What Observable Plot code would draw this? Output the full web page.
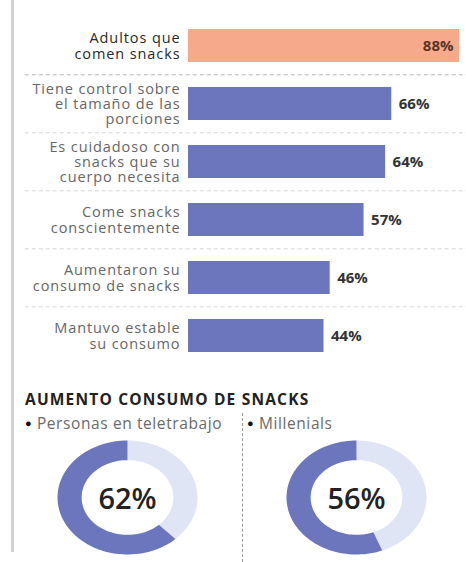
<!DOCTYPE html>
<html>
<head>
<meta charset="utf-8">
<script src="https://cdn.jsdelivr.net/npm/d3@7"></script>
<script src="https://cdn.jsdelivr.net/npm/@observablehq/plot@0.6"></script>
<style>
  html, body { margin: 0; padding: 0; background: #fff; }
  #wrap { position: relative; width: 466px; height: 562px; overflow: hidden; font-family: "Open Sans", sans-serif; }
  #leftline { position: absolute; left: 11px; top: 0; width: 3px; height: 552px; background: #d2d2d2; }
  #bars { position: absolute; left: 0; top: 0; }
  #title2 { position: absolute; left: 25px; top: 388px; font-size: 15.5px; font-weight: 700; color: #222; letter-spacing: 1.2px; white-space: nowrap; }
  .leg { position: absolute; top: 412px; font-size: 15.5px; color: #6a6a6a; letter-spacing: 0.6px; white-space: nowrap; }
  .leg b { color: #111; font-size: 11px; position: relative; top: -2px; }
  #vdash { position: absolute; left: 242px; top: 413px; height: 149px; border-left: 1px dashed #999; }
  .donut { position: absolute; top: 412px; }
</style>
</head>
<body>
<div id="wrap">
  <div id="leftline"></div>
  <div id="bars"></div>
  <div id="title2">AUMENTO CONSUMO DE SNACKS</div>
  <div class="leg" id="leg1" style="left:25px"><b>●</b> Personas en teletrabajo</div>
  <div class="leg" id="leg2" style="left:247px"><b>●</b> Millenials</div>
  <div id="vdash"></div>
  <div class="donut" id="d1" style="left:0px"></div>
  <div class="donut" id="d2" style="left:233px"></div>
</div>
<script>
// ---- data ----
const categories = [
  "Adultos que\ncomen snacks",
  "Tiene control sobre\nel tamaño de las\nporciones",
  "Es cuidadoso con\nsnacks que su\ncuerpo necesita",
  "Come snacks\nconscientemente",
  "Aumentaron su\nconsumo de snacks",
  "Mantuvo estable\nsu consumo"
];
const values = [88, 66, 64, 57, 46, 44];
const highlight = [true, false, false, false, false, false];

const donutLabels = ["Personas en teletrabajo", "Millenials"];
const donutValues = [62, 56];

const ORANGE = "#f6aa8b";
const BLUE = "#6c76bd";
const LIGHT = "#dfe5f4";

const rows = categories.map((c, i) => ({cat: c, value: values[i], hl: highlight[i]}));

const barChart = Plot.plot({
  width: 466,
  height: 372,
  margin: 0,
  x: {domain: [0, 100], range: [188, 496], axis: null},
  y: {domain: categories, range: [16, 366], paddingInner: 0.43, paddingOuter: 0.215, axis: null},
  style: {fontFamily: "Open Sans, sans-serif", background: "transparent"},
  marks: [
    Plot.ruleY(categories.slice(1), {
      y: d => d, x1: -53, x2: 100, dy: -29.2,
      stroke: (d, i) => i === 0 ? "#b5b5b5" : "#d6d6d6",
      strokeDasharray: "4,3", strokeWidth: 1
    }),
    Plot.barX(rows, {y: "cat", x: "value", fill: d => d.hl ? ORANGE : BLUE}),
    Plot.text(rows, {
      x: 0, y: "cat", text: "cat", textAnchor: "end", dx: -8,
      lineHeight: 1.06, fontSize: 14.5,
      fill: d => d.hl ? "#2a2a2a" : "#666",
      fontWeight: d => d.hl ? 600 : 400,
      style: {letterSpacing: "0.9px"}
    }),
    Plot.text(rows.filter(d => d.hl), {
      x: "value", y: "cat", text: d => d.value + "%",
      textAnchor: "end", dx: -6,
      fontSize: 15, fontWeight: 700, fill: "#5b3425"
    }),
    Plot.text(rows.filter(d => !d.hl), {
      x: "value", y: "cat", text: d => d.value + "%",
      textAnchor: "start", dx: 7,
      fontSize: 15, fontWeight: 700, fill: "#333"
    })
  ]
});
barChart.querySelectorAll("g[aria-label='text']").forEach((g, i) => { if (i === 0) g.style.letterSpacing = "0.9px"; });
document.getElementById("bars").appendChild(barChart);

function arcPoints(value) {
  const frac = value / 100;
  const inner = 0.655;
  function seg(a0, a1, part) {
    const n = 80;
    const pts = [];
    for (let k = 0; k <= n; k++) {
      const a = a0 + (a1 - a0) * k / n;
      pts.push({x: -Math.sin(a), y: Math.cos(a), part});
    }
    for (let k = n; k >= 0; k--) {
      const a = a0 + (a1 - a0) * k / n;
      pts.push({x: -Math.sin(a) * inner, y: Math.cos(a) * inner, part});
    }
    return pts;
  }
  // filled share counter-clockwise from 12 o'clock, remainder clockwise
  return seg(0, frac * 2 * Math.PI, "val").concat(seg(frac * 2 * Math.PI, 2 * Math.PI, "rest"));
}

function donut(value, cx) {
  const pts = arcPoints(value);
  return Plot.plot({
    width: 233,
    height: 150,
    margin: 0,
    x: {domain: [-1, 1], range: [cx - 70, cx + 70], axis: null},
    y: {domain: [-1, 1], range: [142, 28], axis: null},
    style: {fontFamily: "Open Sans, sans-serif", background: "transparent"},
    marks: [
      Plot.line(pts.filter(p => p.part === "rest"), {x: "x", y: "y", fill: LIGHT, stroke: "none", curve: "linear-closed"}),
      Plot.line(pts.filter(p => p.part === "val"), {x: "x", y: "y", fill: BLUE, stroke: "none", curve: "linear-closed"}),
      Plot.text([value], {x: 0, y: 0, text: d => d + "%", fontSize: 29, fontWeight: 600, fill: "#222", dy: 2})
    ]
  });
}
document.getElementById("d1").appendChild(donut(donutValues[0], 127));
document.getElementById("d2").appendChild(donut(donutValues[1], 123));
</script>
</body>
</html>
